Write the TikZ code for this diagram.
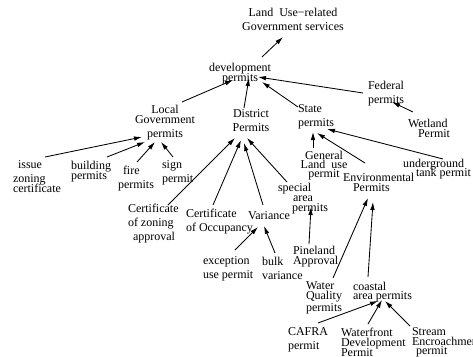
\documentclass[tikz,border=0pt]{standalone}
\usepackage{fontspec}
\setmainfont{Liberation Serif}
\usetikzlibrary{arrows.meta,calc}
\lineskiplimit=-20pt
\lineskip=0pt

\begin{document}
\begin{tikzpicture}[x=1pt,y=-1pt,
  lbl/.style={inner sep=0pt, outer sep=0pt},
  tight/.style={lbl, font=\fontsize{12}{10}\selectfont},
  vtight/.style={lbl, font=\fontsize{12}{9.2}\selectfont},
  loose/.style={lbl, font=\fontsize{12}{14}\selectfont},
  arr/.style={line width=0.85pt, -{Latex[length=8pt,width=4.6pt]}}]
\useasboundingbox (0,0) rectangle (473,356);
\clip (0,0) rectangle (473,356);

% top of the hierarchy
\node[loose, anchor=north, align=center] (gov) at (293,8) {Land~ Use−related\\Government services};
\node[tight, anchor=north, align=center] (dev) at (240,63) {development\\permits};

% permit levels
\node[tight, anchor=north, align=center] (local) at (165,105) {Local\\Government\\[4pt]permits};
\node[loose, anchor=north, align=center] (district) at (251,110) {District\\Permits};
\node[loose, anchor=north west, align=left] (state) at (298,105) {State\\permits};
\node[loose, anchor=north west, align=left] (federal) at (368,81) {Federal\\permits};
\node[tight, anchor=north west, align=left] (wetland) at (408,119) {Wetland\\\hspace*{10pt}Permit};

% state permits
\node[vtight, anchor=north, align=center] (general) at (324,151) {General\\Land~ use\\permit};
\node[tight, anchor=north west, align=left] (env) at (343,173) {Environmental\\\hspace*{10pt}Permits};
\node[vtight, anchor=north west, align=left] (tank) at (403,159) {underground\\\hspace*{13pt}tank permit};

% local government permits
\node[tight, anchor=north west, align=left] (issue) at (13,161) {\hspace*{5pt}issue\\[4pt]zoning\\certificate};
\node[tight, anchor=north west, align=left] (building) at (71,161) {building\\permits};
\node[loose, anchor=north west, align=left] (fire) at (118,166) {\hspace*{5pt}fire\\permits};
\node[loose, anchor=north west, align=left] (sign) at (162,161) {sign\\permit};

% district permits
\node[loose, anchor=north west, align=left] (czone) at (128,204) {Certificate\\of zoning\\\hspace*{5pt}approval};
\node[loose, anchor=north west, align=left] (cocc) at (186,209) {Certificate\\of Occupancy};
\node[loose, anchor=north west, align=left] (variance) at (248,212) {Variance};
\node[tight, anchor=north west, align=left] (special) at (278,183) {special\\\hspace*{15pt}area\\\hspace*{14pt}permits};
\node[loose, anchor=north west, align=left] (except) at (203,257) {exception\\use permit};
\node[loose, anchor=north west, align=left] (bulk) at (262,257) {bulk\\variance};
\node[tight, anchor=north west, align=left] (pine) at (293,246) {Pineland\\Approval};

% environmental permits
\node[vtight, anchor=north west, align=left] (water) at (306,282) {Water\\Quality\\[3pt]permits};
\node[vtight, anchor=north west, align=left] (coastal) at (353,282) {coastal\\area permits};
\node[loose, anchor=north west, align=left] (cafra) at (288,328) {CAFRA\\permit};
\node[tight, anchor=north west, align=left] (wdev) at (341,328) {Waterfront\\Development\\Permit};
\node[vtight, anchor=north west, align=left] (stream) at (412,328) {Stream\\Encroachment\\\hspace*{4pt}permit};

% connectors
\draw[arr] ($(dev.north)+(22,-6)$) -- ($(gov.north)+(-10,29)$);
\draw[arr] ($(local.north)+(17,-3)$) -- ($(dev.north)+(-7,17)$);
\draw[arr] ($(district.north)+(-7,-2)$) -- ($(dev.north)+(9,15)$);
\draw[arr] ($(state.north west)+(0,2)$) -- ($(dev.north)+(22,19)$);
\draw[arr] ($(federal.north west)+(-5,12)$) -- ($(dev.north)+(18,14)$);
\draw[arr] ($(wetland.north west)+(5,-7)$) -- ($(federal.north west)+(24,21)$);

\draw[arr] ($(general.north)+(-11,-3)$) -- ($(state.north west)+(15,27)$);
\draw[arr] ($(env.north west)+(22,-10)$) -- ($(state.north west)+(19,28)$);
\draw[arr] ($(tank.north west)+(40,0)$) -- ($(state.north west)+(29,24)$);

\draw[arr] ($(issue.north west)+(32,-4)$) -- ($(local.north)+(-23,32)$);
\draw[arr] ($(building.north west)+(36,-4)$) -- ($(local.north)+(-20,37)$);
\draw[arr] ($(fire.north west)+(19,-4)$) -- ($(local.north)+(-10,37)$);
\draw[arr] ($(sign.north west)+(11,-4)$) -- ($(local.north)+(-4,37)$);

\draw[arr] ($(czone.north west)+(40,1)$) -- ($(district.north)+(-16,28)$);
\draw[arr] ($(cocc.north west)+(27,-4)$) -- ($(district.north)+(-10,30)$);
\draw[arr] ($(variance.north west)+(15,-7)$) -- ($(district.north)+(-7,33)$);
\draw[arr] ($(special.north west)+(9,-1)$) -- ($(district.north)+(-4,28)$);
\draw[arr] ($(except.north west)+(32,-7)$) -- ($(variance.north west)+(10,15)$);
\draw[arr] ($(bulk.north west)+(13,-4)$) -- ($(variance.north west)+(16,14)$);
\draw[arr] ($(pine.north west)+(16,-2)$) -- ($(special.north west)+(33,24)$);

\draw[arr] ($(water.north west)+(27,-4)$) -- ($(env.north west)+(25,25)$);
\draw[arr] ($(coastal.north west)+(15,-5)$) -- ($(env.north west)+(30,29)$);
\draw[arr] ($(cafra.north west)+(30,-5)$) -- ($(coastal.north west)+(25,19)$);
\draw[arr] ($(wdev.north west)+(27,-4)$) -- ($(coastal.north west)+(29,18)$);
\draw[arr] ($(stream.north west)+(-2,-2)$) -- ($(coastal.north west)+(32,19)$);
\end{tikzpicture}
\end{document}
